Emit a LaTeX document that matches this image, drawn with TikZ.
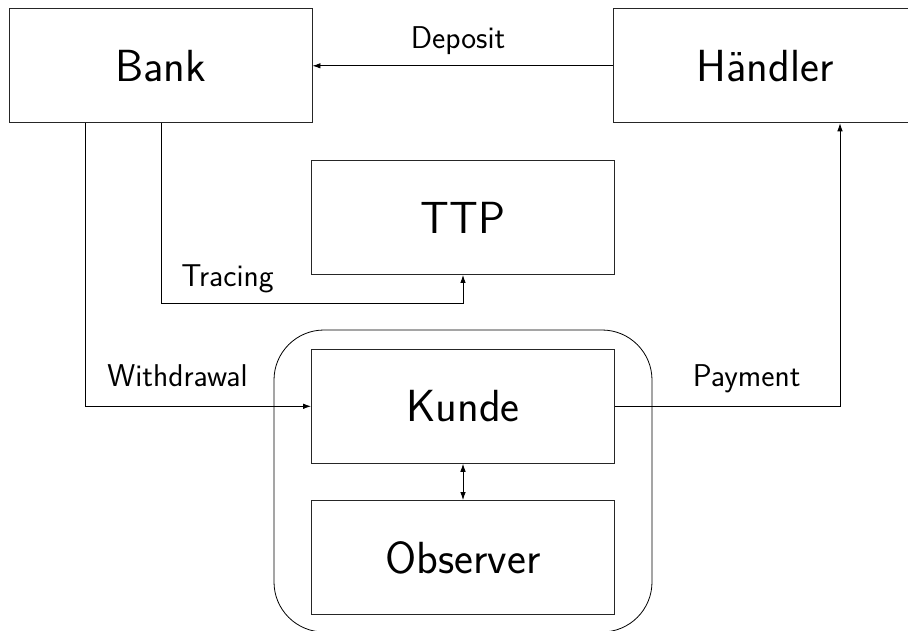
\documentclass[tikz,border=0pt]{standalone}
\usetikzlibrary{arrows.meta}
\begin{document}
\begin{tikzpicture}[x=1pt,y=-1pt,
  party/.style={draw=black!85, line width=0.9pt, minimum width=303pt, minimum height=114pt,
    inner sep=0pt, font=\sffamily\fontsize{45}{54}\selectfont},
  msg/.style={font=\sffamily\fontsize{31.5}{38}\selectfont, anchor=base, inner sep=0pt},
  link/.style={line width=0.8pt, -{Latex[length=8pt,width=5.5pt]}},
  both/.style={line width=0.8pt, {Latex[length=8pt,width=5.5pt]}-{Latex[length=8pt,width=5.5pt]}}]
\path[use as bounding box, clip] (0,0) rectangle (908,630);

% user device around customer and observer
\node[draw, line width=0.8pt, rounded corners=50pt, minimum width=378pt, minimum height=302pt]
  (device) at (463,481) {};

\node[party] (Bank)     at (160.5,65.8) {Bank};
\node[party] (Haendler) at (765,65.8)   {Händler};
\node[party] (TTP)      at (463,217.5)  {TTP};
\node[party] (Kunde)    at (463,406.3)  {Kunde};
\node[party] (Observer) at (463,557.5)  {Observer};

\coordinate (wd) at (85,406);
\coordinate (tr) at (161,303);
\coordinate (pay) at (840,406);

% deposit
\draw[link] (Haendler) -- (Bank);
\node[msg] (lDeposit) at (458,48.3) {Deposit};

% tracing
\draw[link] (Bank.south -| tr) |- (TTP.south |- tr) -- (TTP.south);
\node[msg] (lTracing) at (227.5,286.7) {Tracing};

% withdrawal
\draw[link] (Bank.south -| wd) |- (Kunde.west);
\node[msg] (lWithdrawal) at (177.5,386.7) {Withdrawal};

% payment
\draw[link] (Kunde.east) -| (Haendler.south -| pay);
\node[msg] (lPayment) at (746.7,386.7) {Payment};

% customer <-> observer
\draw[both] (Kunde.south) -- (Observer.north);
\end{tikzpicture}
\end{document}
